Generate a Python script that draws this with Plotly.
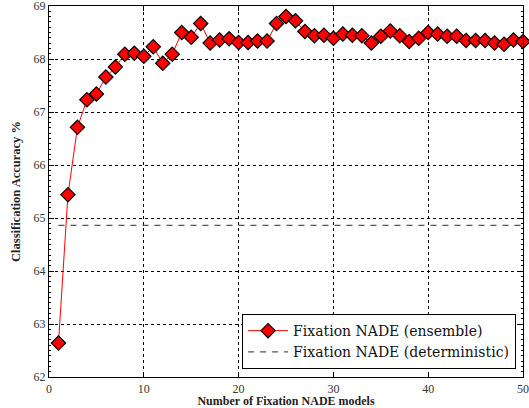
import plotly.graph_objects as go

n_models = list(range(1, 51))
ensemble_acc = [62.64, 65.44, 66.71, 67.23, 67.34, 67.66, 67.85, 68.09, 68.11, 68.05,
                68.23, 67.92, 68.09, 68.50, 68.41, 68.67, 68.30, 68.36, 68.38, 68.31,
                68.31, 68.34, 68.34, 68.67, 68.80, 68.72, 68.52, 68.44, 68.45, 68.39,
                68.47, 68.45, 68.44, 68.30, 68.43, 68.53, 68.44, 68.33, 68.39, 68.50,
                68.47, 68.43, 68.43, 68.35, 68.35, 68.35, 68.30, 68.28, 68.36, 68.33]
deterministic_x = [1, 50]
deterministic_acc = [64.86, 64.86]

serif = "DejaVu Serif"
tick_font = "Liberation Serif"

fig = go.Figure()
fig.add_trace(go.Scatter(
    x=n_models, y=ensemble_acc, mode="lines+markers",
    name="Fixation NADE (ensemble)",
    line=dict(color="red", width=1),
    marker=dict(symbol="diamond", size=11, color="red", line=dict(color="black", width=1.2)),
    cliponaxis=False,
))
fig.add_trace(go.Scatter(
    x=deterministic_x, y=deterministic_acc, mode="lines",
    name="Fixation NADE (deterministic)",
    line=dict(color="#555555", width=1.2, dash="6px,6px"),
))

axis_common = dict(
    showline=True, linecolor="black", linewidth=1.2, mirror="ticks",
    ticks="inside", ticklen=5, tickcolor="black",
    showgrid=True, gridcolor="black", griddash="dot", gridwidth=1,
    zeroline=False, automargin=False, ticklabeloverflow="allow",
    tickfont=dict(family=tick_font, size=12, color="#333"),
)

fig.update_xaxes(range=[0, 50], dtick=10, tick0=0,
                 title=dict(text="<b>Number of Fixation NADE models</b>",
                            font=dict(family=tick_font, size=12, color="#222"), standoff=7),
                 **axis_common)
fig.update_yaxes(range=[62, 69], dtick=1, tick0=62,
                 minor=dict(ticks="inside", ticklen=2, dtick=0.1, tickcolor="black", showgrid=False),
                 title=dict(text="<b>Classification Accuracy %</b>",
                            font=dict(family=tick_font, size=12.5, color="#222"), standoff=10),
                 **axis_common)

fig.update_layout(
    width=529, height=408,
    margin=dict(l=49, r=6, t=6, b=31),
    plot_bgcolor="white", paper_bgcolor="white",
    font=dict(family=serif, color="#222"),
    legend=dict(x=0.985, y=0.022, xanchor="right", yanchor="bottom",
                bgcolor="white", bordercolor="black", borderwidth=1.2,
                font=dict(family=serif, size=14, color="#111"),
                itemwidth=40, tracegroupgap=0),
    showlegend=True,
)

fig.write_html("out.html")
